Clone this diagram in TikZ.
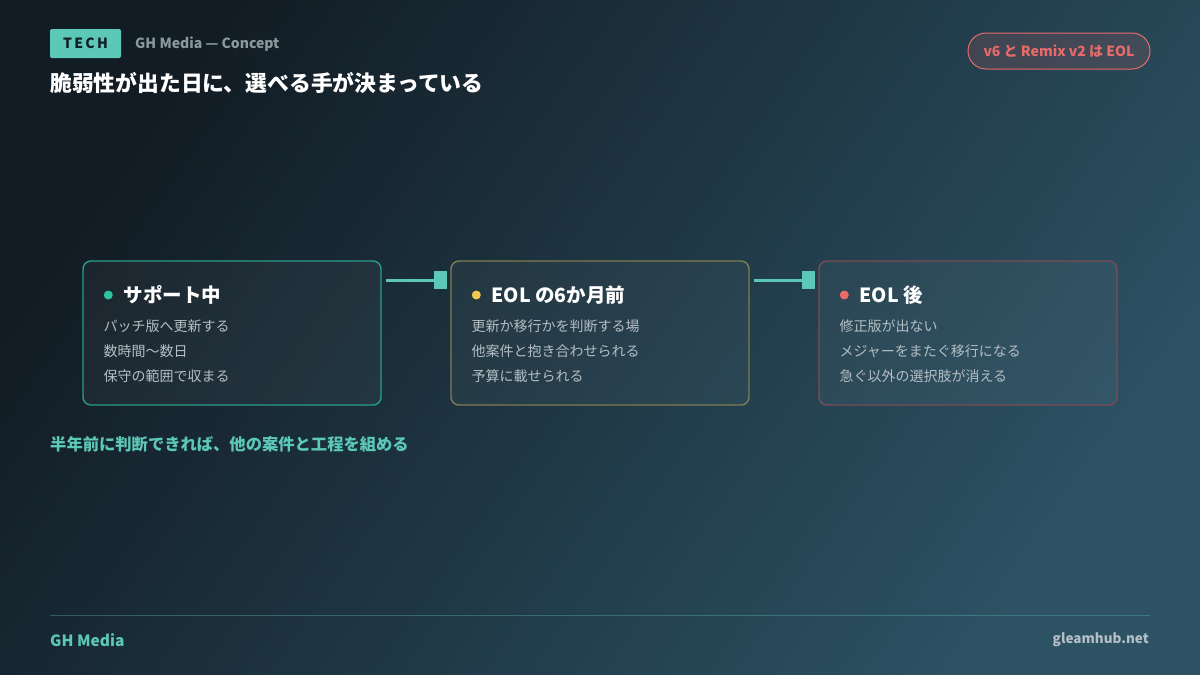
\documentclass[tikz,border=0pt]{standalone}
\usepackage{fontspec}
\setmainfont{Noto Sans CJK JP}
\usetikzlibrary{shapes.geometric}
\definecolor{bgA}{HTML}{121C24}
\definecolor{bgB}{HTML}{2C5264}
\definecolor{teal}{HTML}{5CC8B8}
\definecolor{bodyc}{HTML}{B4BEC4}
\definecolor{grayc}{HTML}{8A98A0}
\definecolor{bA}{HTML}{2A9D8A}
\definecolor{bB}{HTML}{7F7D52}
\definecolor{bC}{HTML}{7C4C56}
\definecolor{dA}{HTML}{2EC4A0}
\definecolor{dB}{HTML}{F2C94C}
\definecolor{dC}{HTML}{EB6B6B}
\definecolor{pill}{HTML}{E86A6A}
\tikzset{
 card/.style={draw=#1,line width=1.4pt,rounded corners=8pt,fill=white,fill opacity=0.04,text opacity=1,minimum width=298pt,minimum height=144pt},
 ttl/.style={anchor=west,text=white,font=\fontsize{19.5}{21}\selectfont\bfseries,inner sep=0},
 bd/.style={anchor=west,text=bodyc,font=\fontsize{14}{16}\selectfont,inner sep=0},
 con/.style={draw=teal,line width=3pt},
 sq/.style={fill=teal,minimum width=13pt,minimum height=18pt,inner sep=0},
}
\begin{document}
\begin{tikzpicture}[x=1pt,y=-1pt]
\shade[shading=axis,left color=bgA,right color=bgB,shading angle=55] (0,0) rectangle (1200,675);
\useasboundingbox (0,0) rectangle (1200,675);
% header
\node[fill=teal,rounded corners=2pt,minimum width=71pt,minimum height=29pt,inner sep=0,text=bgA,font=\fontsize{14}{15}\selectfont\bfseries] (tag) at (85.5,43.5) {T\,E\,C\,H};
\node[anchor=west,inner sep=0,text=grayc,font=\fontsize{14}{15}\selectfont\bfseries] (sub) at (135,44) {GH Media — Concept};
\node[anchor=west,inner sep=0,text=white,font=\fontsize{21.8}{24}\selectfont\bfseries] (title) at (50,83) {脆弱性が出た日に、選べる手が決まっている};
\node[draw=pill,fill=pill,fill opacity=0.15,text opacity=1,rounded corners=18pt,line width=1pt,minimum width=182pt,minimum height=36pt,inner sep=0,text=pill,font=\fontsize{14}{15}\selectfont\bfseries] (pl) at (1059,51) {v6 と Remix v2 は EOL};
% cards
\node[card=bA] (c1) at (232,333) {};
\node[card=bB] (c2) at (600,333) {};
\node[card=bC] (c3) at (968,333) {};
\foreach \c/\d/\t/\a/\b/\e in {c1/dA/サポート中/パッチ版へ更新する/数時間〜数日/保守の範囲で収まる,
 c2/dB/EOL の6か月前/更新か移行かを判断する場/他案件と抱き合わせられる/予算に載せられる,
 c3/dC/EOL 後/修正版が出ない/メジャーをまたぐ移行になる/急ぐ以外の選択肢が消える}{
 \fill[\d] ([shift={(26,-38)}]\c.west) circle (4.5pt);
 \node[ttl] (\c t) at ([shift={(41,-38)}]\c.west) {\t};
 \node[bd] (\c a) at ([shift={(21,-7)}]\c.west) {\a};
 \node[bd] (\c b) at ([shift={(21,18)}]\c.west) {\b};
 \node[bd] (\c e) at ([shift={(21,43)}]\c.west) {\e};
}
\node[sq] (s1) at (440.5,280) {};
\node[sq] (s2) at (808.5,280) {};
\draw[con] ([shift={(4,-53)}]c1.east) -- (s1.west);
\draw[con] ([shift={(4,-53)}]c2.east) -- (s2.west);
\node[anchor=west,inner sep=0,text=teal,font=\fontsize{16.3}{18}\selectfont\bfseries] (note) at (50,444) {半年前に判断できれば、他の案件と工程を組める};
% footer
\coordinate (fl) at (50,615); \coordinate (fr) at (1150,615);
\draw[teal,opacity=0.35,line width=0.8pt] (fl) -- (fr);
\node[anchor=west,inner sep=0,text=teal,font=\fontsize{15.5}{17}\selectfont\bfseries] (gh) at (50,640) {GH Media};
\node[anchor=east,inner sep=0,text=bodyc,font=\fontsize{13.5}{15}\selectfont\bfseries] (url) at (1149,640) {gleamhub.net};
\end{tikzpicture}
\end{document}
